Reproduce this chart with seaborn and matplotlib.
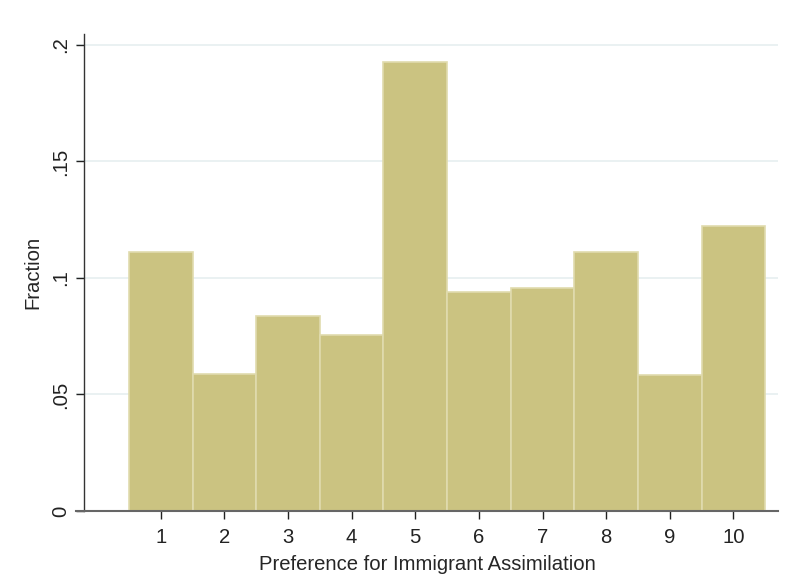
import seaborn as sns
import matplotlib.pyplot as plt
import numpy as np
import pandas as pd

# preference score and fraction of respondents
scores = [1, 2, 3, 4, 5, 6, 7, 8, 9, 10]
fractions = [0.111, 0.059, 0.0835, 0.0755, 0.1925, 0.0938, 0.0958, 0.111, 0.0582, 0.1225]
ytick_vals = [0, 0.05, 0.1, 0.15, 0.2]
ytick_labels = ['0', '.05', '.1', '.15', '.2']

df = pd.DataFrame({'score': scores, 'fraction': fractions})

sns.set_style('white')
plt.rcParams['font.family'] = ['Liberation Sans', 'DejaVu Sans']

fig = plt.figure(figsize=(7.87, 5.84), dpi=100)
ax = fig.add_axes([76 / 787, 73 / 584, 702 / 787, 477 / 584])

sns.histplot(data=df, x='score', weights='fraction', discrete=True, stat='count',
             color='#cbc381', edgecolor='#e0dbae', linewidth=1.2, alpha=1, ax=ax)

ax.set_xlim(-0.331, 10.70)
ax.set_ylim(0, 0.2047)
ax.set_xticks(scores)
ax.set_yticks(ytick_vals)
ax.set_yticklabels(ytick_labels)
for y in ytick_vals[1:]:
    ax.axhline(y, color='#e6eff0', linewidth=1.2, zorder=0)

for s in ['top', 'right']:
    ax.spines[s].set_visible(False)
ax.spines['left'].set_position(('axes', 8 / 702))
ax.spines['left'].set_color('#333333')
ax.spines['bottom'].set_color('#666666')
ax.spines['left'].set_linewidth(1.0)
ax.spines['bottom'].set_linewidth(1.5)
ax.tick_params(axis='both', direction='out', length=6, width=1, colors='#222222',
               labelsize=14.6, pad=6, left=True, bottom=True)
ax.tick_params(axis='y', labelrotation=90, pad=4)
for lab in ax.get_yticklabels():
    lab.set_va('center')

ax.set_xlabel('Preference for Immigrant Assimilation', fontsize=14.6, labelpad=6)
ax.set_ylabel('Fraction', fontsize=14.6, labelpad=6)

plt.savefig('out.png', dpi=100)
